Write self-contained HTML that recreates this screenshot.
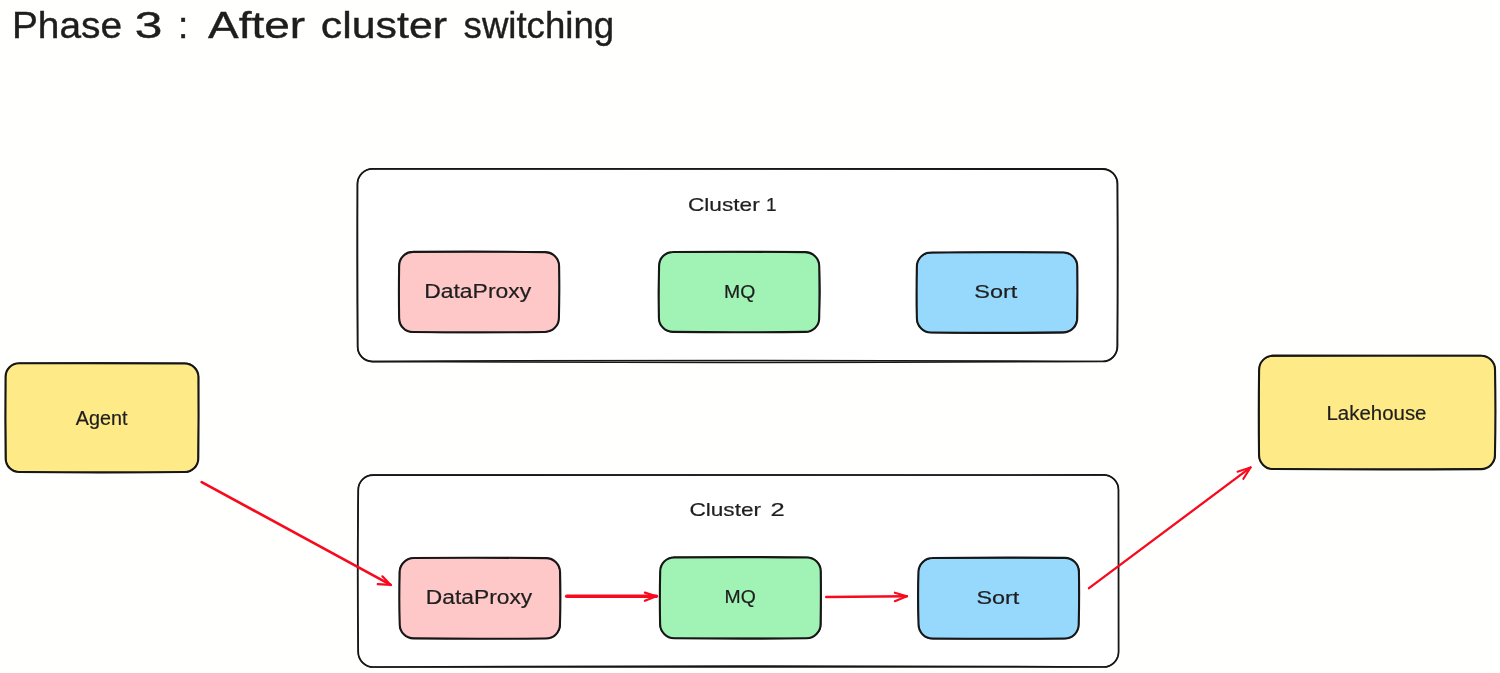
<!DOCTYPE html>
<html lang="en">
<head>
<meta charset="utf-8">
<title>Phase 3 : After cluster switching</title>
<style>
html,body{margin:0;padding:0;background:#fffffd;}
body{width:1500px;height:673px;overflow:hidden;}
svg{display:block;will-change:transform;}
svg text{font-family:"Liberation Sans",sans-serif;fill:#1e1e1e;stroke:#1e1e1e;stroke-width:0.2px;}
svg .title text{stroke:#1e1e1e;stroke-width:0.4px;}
</style>
</head>
<body>
<svg width="1500" height="673" viewBox="0 0 1500 673">
<rect x="0" y="0" width="1500" height="673" fill="#fffffd"/>
<path d="M372.50 169.00 Q737.50 168.40 1102.50 169.00 C1110.78 169.00 1117.50 175.72 1117.50 184.00 Q1118.10 265.25 1117.50 346.50 C1117.50 354.78 1110.78 361.50 1102.50 361.50 Q737.50 362.10 372.50 361.50 C364.22 361.50 357.50 354.78 357.50 346.50 Q356.90 265.25 357.50 184.00 C357.50 175.72 364.22 169.00 372.50 169.00Z" fill="#ffffff" stroke="none"/>
<path d="M372.39 168.89 Q734.54 167.99 1102.44 169.09 C1110.73 169.09 1117.54 175.68 1117.54 183.96 Q1117.86 264.28 1117.51 346.37 C1117.51 354.65 1110.84 361.48 1102.55 361.48 Q737.08 359.50 372.44 361.53 C364.16 361.53 357.59 354.84 357.59 346.56 Q356.89 266.42 357.42 184.02 C357.42 175.74 364.11 168.89 372.39 168.89" fill="none" stroke="#171717" stroke-width="1.7" stroke-linecap="round" stroke-linejoin="round"/>
<path d="M372.64 168.87 Q736.24 168.22 1102.79 168.77 C1111.07 168.77 1117.29 175.71 1117.29 183.99 Q1118.28 265.74 1117.22 346.60 C1117.22 354.89 1111.01 361.39 1102.73 361.39 Q739.11 363.47 372.62 361.56 C364.33 361.56 357.70 355.05 357.70 346.77 Q357.70 266.64 357.48 184.10 C357.48 175.81 364.35 168.87 372.64 168.87" fill="none" stroke="#171717" stroke-width="1.4" stroke-linecap="round" stroke-linejoin="round"/>
<path d="M373.20 475.00 Q738.40 474.40 1103.60 475.00 C1111.88 475.00 1118.60 481.72 1118.60 490.00 Q1119.20 571.00 1118.60 652.00 C1118.60 660.28 1111.88 667.00 1103.60 667.00 Q738.40 667.60 373.20 667.00 C364.92 667.00 358.20 660.28 358.20 652.00 Q357.60 571.00 358.20 490.00 C358.20 481.72 364.92 475.00 373.20 475.00Z" fill="#ffffff" stroke="none"/>
<path d="M373.16 475.12 Q735.53 475.81 1103.74 474.90 C1112.02 474.90 1118.52 481.71 1118.52 490.00 Q1118.88 570.72 1118.63 651.93 C1118.63 660.21 1111.85 667.02 1103.56 667.02 Q738.59 665.24 373.34 667.06 C365.05 667.06 358.25 660.15 358.25 651.87 Q357.46 571.87 358.32 490.08 C358.32 481.80 364.87 475.12 373.16 475.12" fill="none" stroke="#171717" stroke-width="1.6" stroke-linecap="round" stroke-linejoin="round"/>
<path d="M373.14 474.94 Q730.37 474.21 1103.36 475.08 C1111.65 475.08 1118.43 481.51 1118.43 489.80 Q1118.27 568.67 1118.50 651.73 C1118.50 660.02 1111.65 666.92 1103.36 666.92 Q740.19 668.27 372.92 667.22 C364.63 667.22 358.05 660.19 358.05 651.91 Q356.93 573.80 358.12 489.77 C358.12 481.49 364.85 474.94 373.14 474.94" fill="none" stroke="#171717" stroke-width="1.3" stroke-linecap="round" stroke-linejoin="round"/>
<path d="M413.00 252.00 Q479.00 251.40 545.00 252.00 C552.73 252.00 559.00 258.27 559.00 266.00 Q559.60 292.00 559.00 318.00 C559.00 325.73 552.73 332.00 545.00 332.00 Q479.00 332.60 413.00 332.00 C405.27 332.00 399.00 325.73 399.00 318.00 Q398.40 292.00 399.00 266.00 C399.00 258.27 405.27 252.00 413.00 252.00Z" fill="#ffc8c8" stroke="none"/>
<path d="M412.95 251.92 Q482.19 251.25 545.09 252.15 C552.83 252.15 559.10 258.34 559.10 266.07 Q559.52 290.63 558.92 318.01 C558.92 325.74 552.59 331.93 544.86 331.93 Q483.00 332.56 412.93 332.06 C405.20 332.06 399.13 325.88 399.13 318.15 Q398.70 291.23 399.14 265.96 C399.14 258.23 405.22 251.92 412.95 251.92" fill="none" stroke="#171717" stroke-width="2.1" stroke-linecap="round" stroke-linejoin="round"/>
<path d="M412.70 251.70 Q489.12 251.49 545.12 252.40 C552.86 252.40 559.15 258.57 559.15 266.30 Q560.29 295.05 558.58 318.16 C558.58 325.89 552.98 331.98 545.25 331.98 Q473.94 333.34 412.68 332.29 C404.95 332.29 399.47 325.63 399.47 317.90 Q398.14 288.87 398.90 266.45 C398.90 258.71 404.96 251.70 412.70 251.70" fill="none" stroke="#171717" stroke-width="1.0" stroke-linecap="round" stroke-linejoin="round"/>
<path d="M673.00 252.00 Q739.10 251.40 805.20 252.00 C812.93 252.00 819.20 258.27 819.20 266.00 Q819.80 292.00 819.20 318.00 C819.20 325.73 812.93 332.00 805.20 332.00 Q739.10 332.60 673.00 332.00 C665.27 332.00 659.00 325.73 659.00 318.00 Q658.40 292.00 659.00 266.00 C659.00 258.27 665.27 252.00 673.00 252.00Z" fill="#a0f3b5" stroke="none"/>
<path d="M672.93 251.98 Q737.69 251.47 805.09 252.12 C812.82 252.12 819.23 258.39 819.23 266.12 Q819.80 292.22 819.18 318.13 C819.18 325.86 812.94 331.86 805.21 331.86 Q734.63 332.66 672.98 331.90 C665.25 331.90 658.90 325.72 658.90 317.99 Q658.49 292.06 659.07 266.02 C659.07 258.28 665.20 251.98 672.93 251.98" fill="none" stroke="#171717" stroke-width="2.1" stroke-linecap="round" stroke-linejoin="round"/>
<path d="M673.06 252.28 Q731.39 252.02 804.81 252.06 C812.54 252.06 819.47 258.28 819.47 266.01 Q820.79 291.57 819.26 318.26 C819.26 325.99 813.04 332.01 805.31 332.01 Q737.73 332.77 673.01 332.19 C665.28 332.19 658.98 326.17 658.98 318.44 Q657.60 290.00 659.20 266.38 C659.20 258.64 665.32 252.28 673.06 252.28" fill="none" stroke="#171717" stroke-width="1.0" stroke-linecap="round" stroke-linejoin="round"/>
<path d="M931.00 252.50 Q997.10 251.90 1063.20 252.50 C1070.93 252.50 1077.20 258.77 1077.20 266.50 Q1077.80 292.45 1077.20 318.40 C1077.20 326.13 1070.93 332.40 1063.20 332.40 Q997.10 333.00 931.00 332.40 C923.27 332.40 917.00 326.13 917.00 318.40 Q916.40 292.45 917.00 266.50 C917.00 258.77 923.27 252.50 931.00 252.50Z" fill="#97d9fd" stroke="none"/>
<path d="M930.90 252.48 Q994.31 251.97 1063.20 252.45 C1070.94 252.45 1077.27 258.62 1077.27 266.36 Q1077.55 291.86 1077.22 318.38 C1077.22 326.11 1070.97 332.40 1063.24 332.40 Q999.65 333.36 930.87 332.55 C923.14 332.55 916.88 326.06 916.88 318.33 Q916.41 291.35 916.86 266.58 C916.86 258.85 923.17 252.48 930.90 252.48" fill="none" stroke="#171717" stroke-width="2.1" stroke-linecap="round" stroke-linejoin="round"/>
<path d="M930.92 252.91 Q986.70 251.15 1063.52 252.26 C1071.25 252.26 1077.27 258.97 1077.27 266.70 Q1078.01 291.58 1076.79 317.96 C1076.79 325.69 1070.50 332.84 1062.77 332.84 Q984.47 334.08 931.13 332.70 C923.40 332.70 916.57 326.49 916.57 318.76 Q916.05 296.82 916.95 266.34 C916.95 258.61 923.19 252.91 930.92 252.91" fill="none" stroke="#171717" stroke-width="1.0" stroke-linecap="round" stroke-linejoin="round"/>
<path d="M413.80 558.00 Q479.90 557.40 546.00 558.00 C553.73 558.00 560.00 564.27 560.00 572.00 Q560.60 598.25 560.00 624.50 C560.00 632.23 553.73 638.50 546.00 638.50 Q479.90 639.10 413.80 638.50 C406.07 638.50 399.80 632.23 399.80 624.50 Q399.20 598.25 399.80 572.00 C399.80 564.27 406.07 558.00 413.80 558.00Z" fill="#ffc8c8" stroke="none"/>
<path d="M413.90 557.98 Q478.98 557.44 546.00 558.10 C553.73 558.10 560.06 564.41 560.06 572.14 Q560.73 598.78 559.95 624.60 C559.95 632.33 553.70 638.45 545.97 638.45 Q475.96 639.17 413.67 638.39 C405.93 638.39 399.73 632.13 399.73 624.40 Q398.88 598.76 399.68 572.10 C399.68 564.37 406.16 557.98 413.90 557.98" fill="none" stroke="#171717" stroke-width="2.1" stroke-linecap="round" stroke-linejoin="round"/>
<path d="M413.58 557.74 Q469.41 557.36 545.79 557.96 C553.53 557.96 559.76 564.73 559.76 572.46 Q560.21 603.16 560.47 624.55 C560.47 632.28 553.54 638.36 545.81 638.36 Q478.79 638.97 413.30 638.38 C405.57 638.38 399.50 632.24 399.50 624.50 Q399.62 597.13 399.30 571.76 C399.30 564.03 405.85 557.74 413.58 557.74" fill="none" stroke="#171717" stroke-width="1.0" stroke-linecap="round" stroke-linejoin="round"/>
<path d="M674.10 557.40 Q740.40 556.80 806.70 557.40 C814.43 557.40 820.70 563.67 820.70 571.40 Q821.30 597.80 820.70 624.20 C820.70 631.93 814.43 638.20 806.70 638.20 Q740.40 638.80 674.10 638.20 C666.37 638.20 660.10 631.93 660.10 624.20 Q659.50 597.80 660.10 571.40 C660.10 563.67 666.37 557.40 674.10 557.40Z" fill="#a0f3b5" stroke="none"/>
<path d="M674.10 557.50 Q741.20 556.66 806.79 557.50 C814.52 557.50 820.75 563.73 820.75 571.46 Q821.07 597.34 820.62 624.06 C820.62 631.79 814.31 638.30 806.58 638.30 Q741.49 638.98 674.12 638.24 C666.39 638.24 660.10 631.78 660.10 624.05 Q659.54 597.87 660.19 571.47 C660.19 563.74 666.37 557.50 674.10 557.50" fill="none" stroke="#171717" stroke-width="2.1" stroke-linecap="round" stroke-linejoin="round"/>
<path d="M674.26 556.97 Q727.83 556.93 806.94 557.15 C814.67 557.15 820.93 563.37 820.93 571.11 Q821.52 596.72 820.94 624.68 C820.94 632.41 814.41 638.38 806.68 638.38 Q744.81 638.11 674.37 638.32 C666.63 638.32 659.75 631.69 659.75 623.95 Q659.31 592.70 660.34 571.20 C660.34 563.47 666.53 556.97 674.26 556.97" fill="none" stroke="#171717" stroke-width="1.0" stroke-linecap="round" stroke-linejoin="round"/>
<path d="M932.60 558.00 Q998.70 557.40 1064.80 558.00 C1072.53 558.00 1078.80 564.27 1078.80 572.00 Q1079.40 598.25 1078.80 624.50 C1078.80 632.23 1072.53 638.50 1064.80 638.50 Q998.70 639.10 932.60 638.50 C924.87 638.50 918.60 632.23 918.60 624.50 Q918.00 598.25 918.60 572.00 C918.60 564.27 924.87 558.00 932.60 558.00Z" fill="#97d9fd" stroke="none"/>
<path d="M932.49 558.01 Q1001.60 557.34 1064.94 557.89 C1072.67 557.89 1078.92 564.33 1078.92 572.06 Q1079.41 596.91 1078.72 624.62 C1078.72 632.35 1072.38 638.50 1064.65 638.50 Q995.38 638.98 932.59 638.44 C924.85 638.44 918.54 632.33 918.54 624.60 Q917.69 597.20 918.45 572.08 C918.45 564.34 924.76 558.01 932.49 558.01" fill="none" stroke="#171717" stroke-width="2.1" stroke-linecap="round" stroke-linejoin="round"/>
<path d="M933.03 558.21 Q995.28 557.62 1065.20 557.79 C1072.93 557.79 1079.30 564.36 1079.30 572.09 Q1079.13 593.74 1078.66 624.43 C1078.66 632.16 1072.13 638.83 1064.40 638.83 Q990.87 639.02 932.39 638.94 C924.65 638.94 918.61 631.92 918.61 624.19 Q917.17 601.44 918.47 572.46 C918.47 564.72 925.29 558.21 933.03 558.21" fill="none" stroke="#171717" stroke-width="1.0" stroke-linecap="round" stroke-linejoin="round"/>
<path d="M19.10 363.40 Q101.95 362.80 184.80 363.40 C192.26 363.40 198.30 369.44 198.30 376.90 Q198.90 417.75 198.30 458.60 C198.30 466.06 192.26 472.10 184.80 472.10 Q101.95 472.70 19.10 472.10 C11.64 472.10 5.60 466.06 5.60 458.60 Q5.00 417.75 5.60 376.90 C5.60 369.44 11.64 363.40 19.10 363.40Z" fill="#ffea88" stroke="none"/>
<path d="M19.00 363.30 Q101.83 362.98 184.71 363.52 C192.17 363.52 198.42 369.59 198.42 377.05 Q198.77 416.54 198.28 458.49 C198.28 465.95 192.21 471.98 184.75 471.98 Q102.51 472.83 19.02 472.03 C11.57 472.03 5.67 466.03 5.67 458.57 Q5.10 417.26 5.57 376.91 C5.57 369.45 11.54 363.30 19.00 363.30" fill="none" stroke="#171717" stroke-width="2.1" stroke-linecap="round" stroke-linejoin="round"/>
<path d="M18.66 363.18 Q102.07 362.24 185.27 363.03 C192.72 363.03 198.66 369.16 198.66 376.62 Q198.77 416.94 198.07 458.35 C198.07 465.80 192.71 472.45 185.25 472.45 Q88.33 473.05 19.47 471.62 C12.02 471.62 6.00 466.03 6.00 458.57 Q5.46 421.75 5.69 376.40 C5.69 368.94 11.21 363.18 18.66 363.18" fill="none" stroke="#171717" stroke-width="1.0" stroke-linecap="round" stroke-linejoin="round"/>
<path d="M1273.10 355.80 Q1377.05 355.20 1481.00 355.80 C1488.73 355.80 1495.00 362.07 1495.00 369.80 Q1495.60 412.45 1495.00 455.10 C1495.00 462.83 1488.73 469.10 1481.00 469.10 Q1377.05 469.70 1273.10 469.10 C1265.37 469.10 1259.10 462.83 1259.10 455.10 Q1258.50 412.45 1259.10 369.80 C1259.10 362.07 1265.37 355.80 1273.10 355.80Z" fill="#ffea88" stroke="none"/>
<path d="M1272.98 355.67 Q1375.99 355.31 1481.01 355.82 C1488.74 355.82 1495.03 361.92 1495.03 369.65 Q1495.86 412.80 1494.94 455.09 C1494.94 462.82 1488.85 469.09 1481.12 469.09 Q1381.21 469.78 1273.02 469.02 C1265.29 469.02 1259.04 462.69 1259.04 454.96 Q1258.52 411.68 1259.10 369.85 C1259.10 362.12 1265.25 355.67 1272.98 355.67" fill="none" stroke="#171717" stroke-width="2.1" stroke-linecap="round" stroke-linejoin="round"/>
<path d="M1273.27 356.23 Q1372.14 355.34 1480.73 355.33 C1488.46 355.33 1495.18 361.77 1495.18 369.50 Q1495.85 409.47 1495.30 455.34 C1495.30 463.07 1489.20 468.91 1481.47 468.91 Q1369.09 469.99 1273.42 468.83 C1265.69 468.83 1258.89 463.28 1258.89 455.55 Q1258.95 411.69 1259.10 369.49 C1259.10 361.76 1265.54 356.23 1273.27 356.23" fill="none" stroke="#171717" stroke-width="1.0" stroke-linecap="round" stroke-linejoin="round"/>
<path d="M201.7 482.1 L390.7 584.9" fill="none" stroke="#f80a1e" stroke-width="2.7" stroke-linecap="round"/>
<path d="M382.4 576.3 L390.7 584.9 L377.7 584.1" fill="none" stroke="#f80a1e" stroke-width="2.2" stroke-linecap="round" stroke-linejoin="round"/>
<path d="M566.7 596.3 L656.4 596.3" fill="none" stroke="#f80a1e" stroke-width="3.5" stroke-linecap="round"/>
<path d="M644.9 592.7 L656.4 596.3 L644.9 600.8" fill="none" stroke="#f80a1e" stroke-width="2.3" stroke-linecap="round" stroke-linejoin="round"/>
<path d="M826.2 597 L906.9 596.3" fill="none" stroke="#f80a1e" stroke-width="2.4" stroke-linecap="round"/>
<path d="M894.8 592.7 L906.9 596.3 L894.8 601.2" fill="none" stroke="#f80a1e" stroke-width="2.1" stroke-linecap="round" stroke-linejoin="round"/>
<path d="M1089.0 588.2 L1250.6 467.4" fill="none" stroke="#f80a1e" stroke-width="2.3" stroke-linecap="round"/>
<path d="M1237.5 471.7 L1250.6 467.4 L1243.3 478.9" fill="none" stroke="#f80a1e" stroke-width="2.0" stroke-linecap="round" stroke-linejoin="round"/>
<g class="title" font-size="37">
<text x="12" y="38.2" font-size="37" textLength="110" lengthAdjust="spacingAndGlyphs" text-anchor="start">Phase</text>
<text x="134.7" y="38.2" font-size="37" textLength="27.6" lengthAdjust="spacingAndGlyphs" text-anchor="start">3</text>
<text x="178" y="38.2" font-size="37" text-anchor="start">:</text>
<text x="208" y="38.2" font-size="37" textLength="97" lengthAdjust="spacingAndGlyphs" text-anchor="start">After</text>
<text x="320.8" y="38.2" font-size="37" textLength="126.2" lengthAdjust="spacingAndGlyphs" text-anchor="start">cluster</text>
<text x="463.6" y="38.2" font-size="37" textLength="150.5" lengthAdjust="spacingAndGlyphs" text-anchor="start">switching</text>
</g>
<text x="688" y="210.8" font-size="19" textLength="71.7" lengthAdjust="spacingAndGlyphs" text-anchor="start">Cluster</text>
<text x="766" y="210.8" font-size="19" text-anchor="start">1</text>
<text x="689.4" y="516.2" font-size="19" textLength="71.7" lengthAdjust="spacingAndGlyphs" text-anchor="start">Cluster</text>
<text x="770.4" y="516.2" font-size="19" textLength="14.2" lengthAdjust="spacingAndGlyphs" text-anchor="start">2</text>
<text x="424.2" y="297.7" font-size="20" textLength="107" lengthAdjust="spacingAndGlyphs" text-anchor="start">DataProxy</text>
<text x="724" y="297.8" font-size="18" textLength="31.2" lengthAdjust="spacingAndGlyphs" text-anchor="start">MQ</text>
<text x="974.3" y="298" font-size="19" textLength="43.1" lengthAdjust="spacingAndGlyphs" text-anchor="start">Sort</text>
<text x="425.8" y="603.5" font-size="20" textLength="106.4" lengthAdjust="spacingAndGlyphs" text-anchor="start">DataProxy</text>
<text x="724.6" y="603.2" font-size="18" textLength="31.2" lengthAdjust="spacingAndGlyphs" text-anchor="start">MQ</text>
<text x="976.4" y="604" font-size="19" textLength="43" lengthAdjust="spacingAndGlyphs" text-anchor="start">Sort</text>
<text x="75.8" y="424.6" font-size="20" textLength="51.6" lengthAdjust="spacingAndGlyphs" text-anchor="start">Agent</text>
<text x="1326.5" y="419.7" font-size="20" textLength="100" lengthAdjust="spacingAndGlyphs" text-anchor="start">Lakehouse</text>
</svg>
</body>
</html>
